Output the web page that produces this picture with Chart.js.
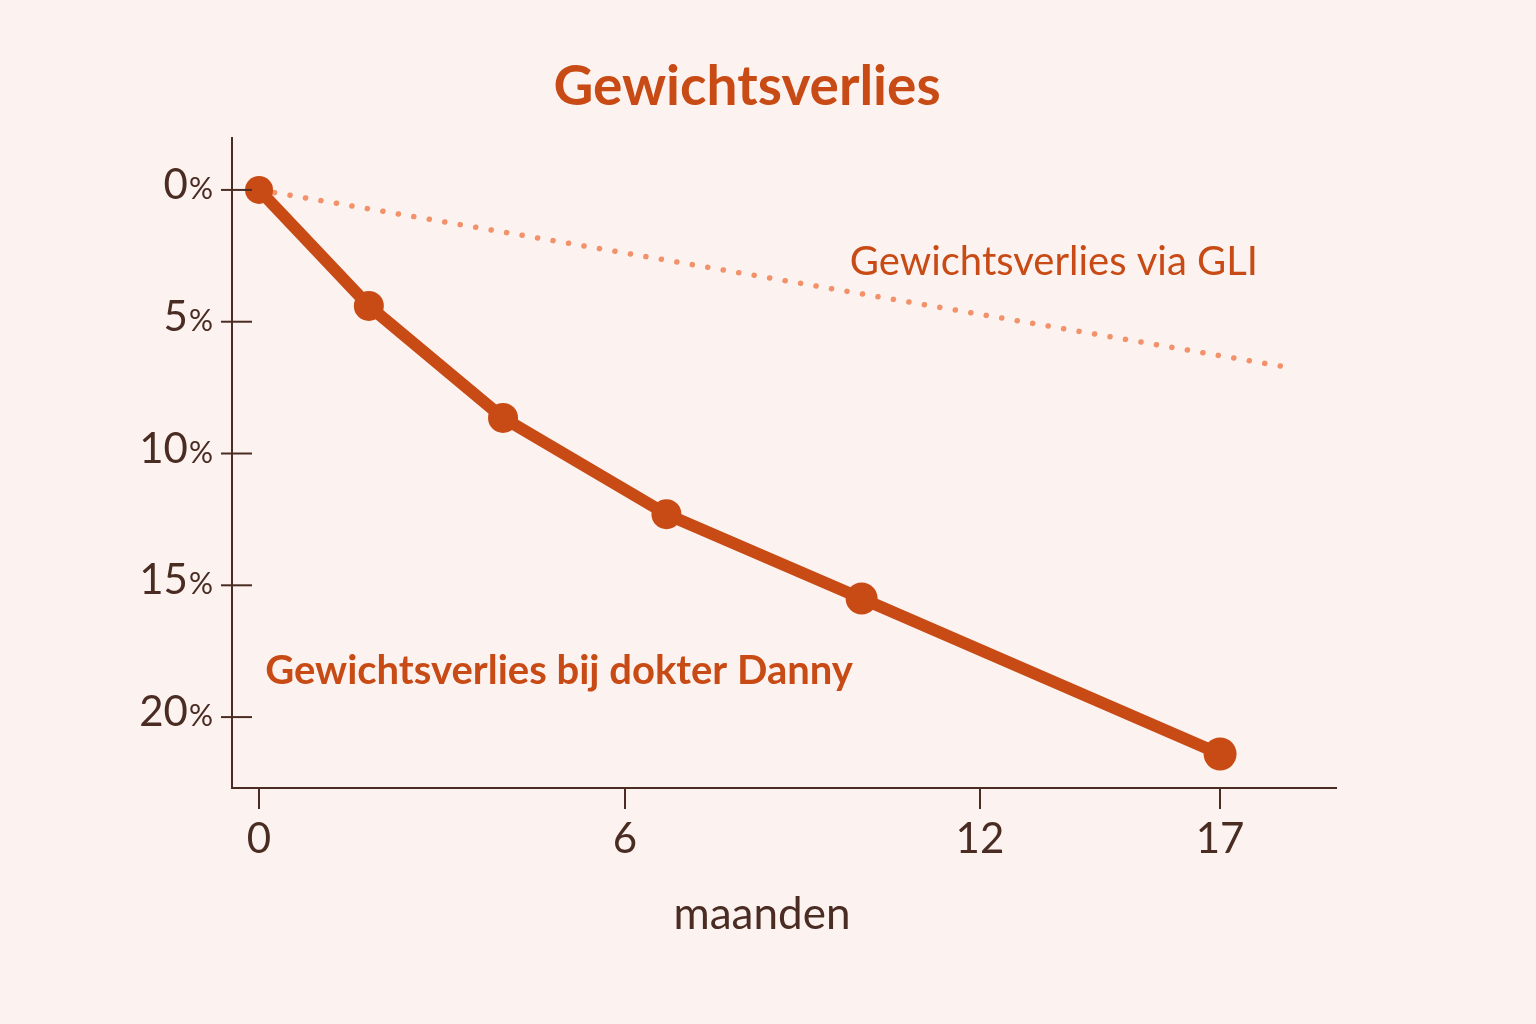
<!DOCTYPE html>
<html lang="nl">
<head>
<meta charset="utf-8">
<title>Gewichtsverlies</title>
<script src="https://cdn.jsdelivr.net/npm/chart.js@4.4.1/dist/chart.umd.min.js"></script>
<style>
  html, body { margin: 0; padding: 0; background: #fcf3f0; }
  #wrap { width: 1536px; height: 1024px; }
</style>
</head>
<body>
<div id="wrap"><canvas id="lossChart" width="1536" height="1024"></canvas></div>
<script>
// Data
const months = [0, 1.8, 4, 6.7, 10, 17];
const dannyLoss = [0, 4.4, 8.65, 12.3, 15.5, 21.4];
const gliMonths = [0, 18.3];
const gliLoss = [0, 6.7];
const xTicks = [0, 6, 12, 17];
const yTicks = [0, 5, 10, 15, 20];

// The month axis in the picture is not evenly spaced, so map it piece by piece
const xKnots = [-0.45, 0, 6, 12, 17, 19.4];
const xKnotPos = [0, 0.0245, 0.356, 0.6775, 0.895, 1];

const orange = '#c84b16';
const salmon = '#f2916a';
const ink = '#4a2c23';

function interp(v, from, to) {
  if (v <= from[0]) return to[0] + (v - from[0]) * (to[1] - to[0]) / (from[1] - from[0]);
  for (let i = 1; i < from.length; i++) {
    if (v <= from[i]) {
      const t = (v - from[i - 1]) / (from[i] - from[i - 1]);
      return to[i - 1] + t * (to[i] - to[i - 1]);
    }
  }
  const n = from.length - 1;
  return to[n] + (v - from[n]) * (to[n] - to[n - 1]) / (from[n] - from[n - 1]);
}

class WarpedScale extends Chart.LinearScale {
  getPixelForValue(value) {
    return this.getPixelForDecimal(interp(value, xKnots, xKnotPos));
  }
  getValueForPixel(pixel) {
    return interp(this.getDecimalForPixel(pixel), xKnotPos, xKnots);
  }
}
WarpedScale.id = 'warped';
WarpedScale.defaults = Chart.LinearScale.defaults;
Chart.register(WarpedScale);

// Texts and the y tick marks that cross the axis
const overlay = {
  id: 'overlay',
  afterDraw(chart) {
    const { ctx, chartArea, scales: { x, y } } = chart;
    ctx.save();

    ctx.strokeStyle = ink;
    ctx.lineWidth = 2;
    ctx.fillStyle = ink;
    ctx.textBaseline = 'alphabetic';
    yTicks.forEach(v => {
      const py = y.getPixelForValue(v);
      ctx.beginPath();
      ctx.moveTo(chartArea.left - 11, py);
      ctx.lineTo(chartArea.left + 20, py);
      ctx.stroke();

      ctx.textAlign = 'right';
      ctx.font = '30px Lato';
      const pctW = ctx.measureText('%').width;
      ctx.fillText('%', chartArea.left - 19, py + 9);
      ctx.font = '42px Lato';
      ctx.fillText(String(v), chartArea.left - 20 - pctW, py + 9);
    });

    // title
    ctx.fillStyle = orange;
    ctx.textAlign = 'center';
    ctx.font = 'bold 55px Lato';
    ctx.fillText('Gewichtsverlies', 747, 105);

    // series labels
    ctx.textAlign = 'left';
    ctx.font = '40px Lato';
    ctx.fillText('Gewichtsverlies via GLI', x.getPixelForValue(9.8), y.getPixelForValue(3.22));
    ctx.font = 'bold 40px Lato';
    ctx.fillText('Gewichtsverlies bij dokter Danny', x.getPixelForValue(0.1), y.getPixelForValue(18.75));

    // axis title
    ctx.fillStyle = ink;
    ctx.textAlign = 'center';
    ctx.font = '44px Lato';
    ctx.fillText('maanden', 762, 929);

    ctx.restore();
  }
};

const ctx = document.getElementById('lossChart').getContext('2d');
new Chart(ctx, {
  type: 'line',
  data: {
    datasets: [
      {
        label: 'Gewichtsverlies via GLI',
        data: gliMonths.map((m, i) => ({ x: m, y: gliLoss[i] })),
        borderColor: salmon,
        borderWidth: 5.5,
        borderDash: [0.1, 15.6],
        borderCapStyle: 'round',
        pointRadius: 0,
        tension: 0,
        clip: false,
        order: 2
      },
      {
        label: 'Gewichtsverlies bij dokter Danny',
        data: months.map((m, i) => ({ x: m, y: dannyLoss[i] })),
        borderColor: orange,
        backgroundColor: orange,
        borderWidth: 12,
        borderJoinStyle: 'round',
        pointRadius: [14, 15, 15, 15, 16, 16.5],
        pointBorderWidth: 0,
        pointBackgroundColor: orange,
        tension: 0,
        clip: false,
        order: 1
      }
    ]
  },
  options: {
    responsive: false,
    animation: false,
    layout: { padding: { left: 232, right: 200, top: 138, bottom: 0 } },
    plugins: {
      legend: { display: false },
      title: { display: false },
      tooltip: { enabled: false }
    },
    scales: {
      x: {
        type: 'warped',
        min: xKnots[0],
        max: xKnots[xKnots.length - 1],
        afterBuildTicks: s => { s.ticks = xTicks.map(v => ({ value: v })); },
        afterFit: s => { s.height = 1024 - 788; },
        grid: { drawOnChartArea: false, drawTicks: true, tickLength: 21, color: ink, lineWidth: 2 },
        border: { color: ink, width: 2 },
        ticks: {
          color: ink,
          font: { family: 'Lato', size: 42 },
          padding: 5,
          maxRotation: 0,
          autoSkip: false,
          callback: v => String(v)
        }
      },
      y: {
        reverse: true,
        min: -1.97,
        max: 22.69,
        afterBuildTicks: s => { s.ticks = yTicks.map(v => ({ value: v })); },
        afterFit: s => { s.width = 0; },
        grid: { drawOnChartArea: false, drawTicks: false },
        border: { color: ink, width: 2 },
        ticks: { display: false }
      }
    }
  },
  plugins: [overlay]
});
</script>
</body>
</html>
